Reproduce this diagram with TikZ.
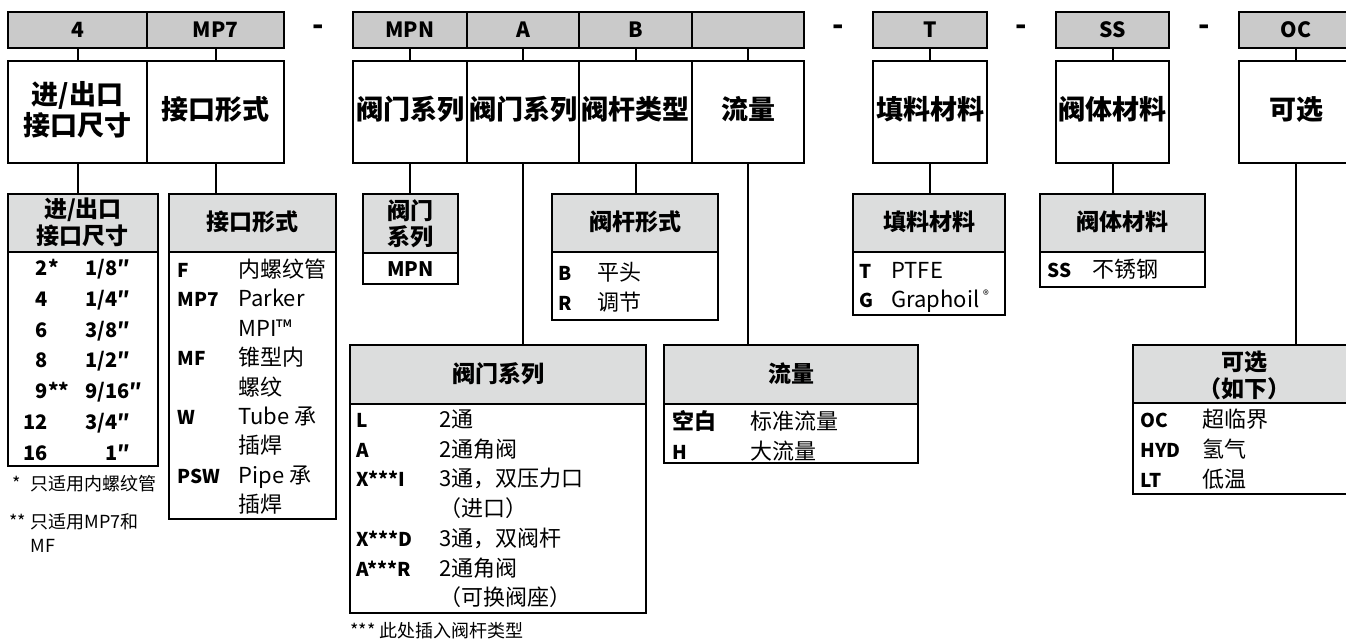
\documentclass[tikz,border=0pt]{standalone}
\usepackage{fontspec}
\setmainfont{Noto Sans CJK SC}
\usepackage{tikz}
\usetikzlibrary{positioning,fit}
\definecolor{hdrgray}{HTML}{CACACA}
\definecolor{subgray}{HTML}{DCDDDD}

\begin{document}
\begin{tikzpicture}[x=0.5pt, y=-0.5pt,
  hbox/.style={draw, line width=1.2pt, fill=hdrgray, inner sep=0pt},
  mbox/.style={draw, line width=1.2pt, fill=white, inner sep=0pt},
  thead/.style={draw, line width=1pt, fill=subgray, inner sep=0pt},
  tbody/.style={draw, line width=1pt, inner sep=0pt},
  htext/.style={inner sep=0pt, text height=0.75em, text depth=0pt, font=\bfseries\fontsize{10.5}{12}\selectfont},
  mtext/.style={inner sep=0pt, text height=0.75em, text depth=0pt, font=\bfseries\fontsize{13.5}{15.5}\selectfont},
  ttext/.style={inner sep=0pt, text height=0.75em, text depth=0pt, font=\bfseries\fontsize{11.5}{13.5}\selectfont},
  code/.style={anchor=west, inner sep=0pt, text height=0.75em, text depth=0pt, font=\bfseries\fontsize{9.5}{11}\selectfont},
  num/.style={inner sep=0pt, text height=0.75em, text depth=0pt, font=\bfseries\fontsize{10}{12}\selectfont},
  desc/.style={anchor=west, inner sep=0pt, text height=0.75em, text depth=0pt, font=\fontsize{11}{13}\selectfont},
  note/.style={anchor=west, inner sep=0pt, text height=0.75em, text depth=0pt, font=\fontsize{9}{12}\selectfont},
  sep/.style={anchor=base, inner sep=0pt, font=\bfseries\fontsize{15}{17}\selectfont},
  link/.style={line width=1pt}
]
  \useasboundingbox (0,0) rectangle (1346,639);
  \clip (0,0) rectangle (1346,639);

  % code row
  \node[hbox, fit={(8,12) (147,48)}] (hsize) {};
  \node[hbox, fit={(147,12) (284,48)}] (hconn) {};
  \node[hbox, fit={(353,12) (467,48)}] (hser) {};
  \node[hbox, fit={(467,12) (579,48)}] (hmod) {};
  \node[hbox, fit={(579,12) (692,48)}] (hstem) {};
  \node[hbox, fit={(692,12) (804,48)}] (hflow) {};
  \node[hbox, fit={(873,12) (987,48)}] (hpack) {};
  \node[hbox, fit={(1056,12) (1169,48)}] (hbody) {};
  \node[hbox, fit={(1239,12) (1353,48)}] (hopt) {};
  \foreach \n/\t in {size/4, conn/MP7, ser/MPN, mod/A, stem/B, pack/T, body/SS, opt/OC}
    \node[htext] (h\n t) at (h\n.center) {\t};
  \foreach \x [count=\i] in {318,838,1021,1204}
    \node[sep] (dash\i) at (\x,35) {-};

  % meaning row
  \node[mbox, fit={(8,61) (147,163)}] (msize) {};
  \node[mbox, fit={(147,61) (284,163)}] (mconn) {};
  \node[mbox, fit={(353,61) (467,163)}] (mser) {};
  \node[mbox, fit={(467,61) (579,163)}] (mmod) {};
  \node[mbox, fit={(579,61) (692,163)}] (mstem) {};
  \node[mbox, fit={(692,61) (804,163)}] (mflow) {};
  \node[mbox, fit={(873,61) (987,163)}] (mpack) {};
  \node[mbox, fit={(1056,61) (1169,163)}] (mbody) {};
  \node[mbox, fit={(1239,61) (1353,163)}] (mopt) {};
  \node[mtext] (msizea) at (77.5,97) {进/出口};
  \node[mtext] (msizeb) at (77.5,128) {接口尺寸};
  \foreach \n/\t in {conn/接口形式, ser/阀门系列, mod/阀门系列, stem/阀杆类型, flow/流量, pack/填料材料, body/阀体材料, opt/可选}
    \node[mtext] (m\n t) at (m\n.center) {\t};
  \foreach \n in {size,conn,ser,mod,stem,flow,pack,body,opt}
    \draw[link] (h\n) -- (m\n);

  % size table
  \node[thead, fit={(8,194) (158,252)}] (tsizeh) {};
  \node[ttext] (tsizeha) at (83,210) {进/出口};
  \node[ttext] (tsizehb) at (83,237) {接口尺寸};
  \node[tbody, fit={(8,252) (158,466)}] (tsizeb) {};
  \foreach \n/\a/\s [count=\i from 0] in {2/{*}/{1/8″}, 4//{1/4″}, 6//{3/8″}, 8//{1/2″}, 9/{**}/{9/16″}, 12//{3/4″}, 16//{\phantom{1/}1″}}{
    \node[num, anchor=east] (tsizen\i) at (48,{268+30.8*\i}) {\n};
    \node[num, anchor=west] (tsizea\i) at (48,{268+30.8*\i}) {\a};
    \node[num, anchor=west] (tsizes\i) at (85,{268+30.8*\i}) {\s};
  }
  \node[note] (fnone) at (12,483) {*};
  \node[note] (fnonet) at (30,483) {只适用内螺纹管};
  \node[note] (fntwo) at (9,521) {**};
  \node[note] (fntwoa) at (30,521) {只适用MP7和};
  \node[note] (fntwob) at (30,545) {MF};

  % connection table
  \node[thead, fit={(169,194) (336,252)}] (tconnh) {};
  \node[ttext] (tconnht) at (tconnh.center) {接口形式};
  \node[tbody, fit={(169,252) (336,519)}] (tconnb) {};
  \foreach \c/\d [count=\i from 0] in {F/内螺纹管, MP7/Parker, /MPI™, MF/锥型内, /螺纹, W/Tube 承, /插焊, PSW/Pipe 承, /插焊}{
    \node[code] (tconnc\i) at (177,{270+29.4*\i}) {\c};
    \node[desc] (tconnd\i) at (238,{270+29.4*\i}) {\d};
  }

  % series table
  \node[thead, fit={(363,194) (458,253)}] (tserh) {};
  \node[ttext] (tserha) at (410.5,212) {阀门};
  \node[ttext] (tserhb) at (410.5,238) {系列};
  \node[tbody, fit={(363,253) (458,284)}] (tserb) {};
  \node[htext, font=\bfseries\fontsize{10}{12}\selectfont] (tserbt) at (tserb.center) {MPN};

  % stem table
  \node[thead, fit={(552,194) (718,252)}] (tstemh) {};
  \node[ttext] (tstemht) at (tstemh.center) {阀杆形式};
  \node[tbody, fit={(552,252) (718,320)}] (tstemb) {};
  \foreach \c/\d [count=\i from 0] in {B/平头, R/调节}{
    \node[code] (tstemc\i) at (558,{273+30*\i}) {\c};
    \node[desc] (tstemd\i) at (597,{273+30*\i}) {\d};
  }

  % model table
  \node[thead, fit={(350,345) (646,404)}] (tmodh) {};
  \node[ttext] (tmodht) at (tmodh.center) {阀门系列};
  \node[tbody, fit={(350,404) (646,613)}] (tmodb) {};
  \foreach \c/\d [count=\i from 0] in {L/2通, A/2通角阀, X***I/3通，双压力口, /（进口）, X***D/3通，双阀杆, A***R/2通角阀, /（可换阀座）}{
    \node[code] (tmodc\i) at (356,{420+29.7*\i}) {\c};
    \node[desc] (tmodd\i) at (439,{420+29.7*\i}) {\d};
  }
  \node[note] (fnthree) at (350,630) {*** 此处插入阀杆类型};

  % flow table
  \node[thead, fit={(664,345) (918,404)}] (tflowh) {};
  \node[ttext] (tflowht) at (tflowh.center) {流量};
  \node[tbody, fit={(664,404) (918,463)}] (tflowb) {};
  \foreach \c/\d [count=\i from 0] in {{\fontsize{11}{13}\selectfont 空白}/标准流量, H/大流量}{
    \node[code] (tflowc\i) at (672,{422+30*\i}) {\c};
    \node[desc] (tflowd\i) at (750,{422+30*\i}) {\d};
  }

  % packing table
  \node[thead, fit={(853,194) (1005,252)}] (tpackh) {};
  \node[ttext] (tpackht) at (tpackh.center) {填料材料};
  \node[tbody, fit={(853,252) (1005,315)}] (tpackb) {};
  \foreach \c/\d [count=\i from 0] in {T/PTFE, G/{Graphoil\,\raisebox{0.7ex}{\fontsize{6}{6}\selectfont ®}}}{
    \node[code] (tpackc\i) at (859,{271+29*\i}) {\c};
    \node[desc] (tpackd\i) at (891,{271+29*\i}) {\d};
  }

  % body table
  \node[thead, fit={(1040,194) (1205,252)}] (tbodyh) {};
  \node[ttext] (tbodyht) at (tbodyh.center) {阀体材料};
  \node[tbody, fit={(1040,252) (1205,287)}] (tbodyb) {};
  \node[code] (tbodyc0) at (1047,270) {SS};
  \node[desc] (tbodyd0) at (1092,270) {不锈钢};

  % options table
  \node[thead, fit={(1133,345) (1355,403)}] (topth) {};
  \node[ttext] (toptha) at (1244,363) {可选};
  \node[ttext] (topthb) at (1244,390) {（如下）};
  \node[tbody, fit={(1133,403) (1355,494)}] (toptb) {};
  \foreach \c/\d [count=\i from 0] in {OC/超临界, HYD/氢气, LT/低温}{
    \node[code] (toptc\i) at (1140,{420+30*\i}) {\c};
    \node[desc] (toptd\i) at (1202,{420+30*\i}) {\d};
  }

  \foreach \n in {size,conn,ser,mod,stem,flow,pack,body,opt}
    \draw[link] (m\n) -- (m\n.south |- t\n h.north);
\end{tikzpicture}
\end{document}
